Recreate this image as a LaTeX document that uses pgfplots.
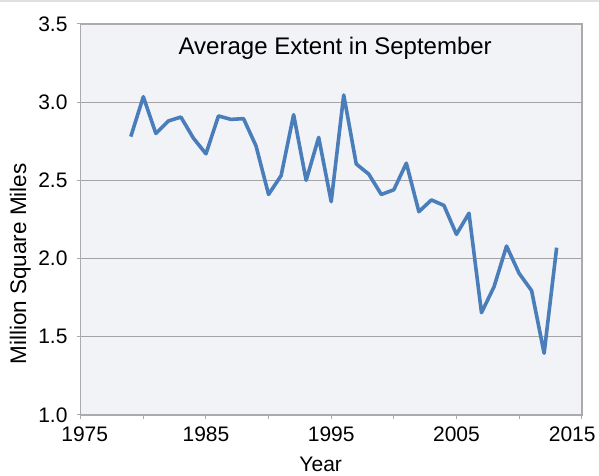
\documentclass[border=0pt]{standalone}
\usepackage{pgfplots}
\pgfplotsset{compat=1.18}
\usepackage{fontspec}
\setmainfont{Liberation Sans}
\definecolor{lineblue}{HTML}{4A7EBB}
\definecolor{plotbg}{HTML}{F2F3F6}
\definecolor{gridgray}{HTML}{A3A3A3}
\definecolor{spinegray}{HTML}{ABABAB}
\begin{document}
\fontsize{21bp}{25bp}\selectfont
\begin{tikzpicture}
\path[use as bounding box] (-80.7bp,-61bp) rectangle (518.3bp,415bp);
\draw[line width=1.5bp, black!12] (-80.7bp,414.2bp) -- (518.3bp,414.2bp);
\begin{axis}[
    at={(0,0)}, anchor=origin,
    scale only axis,
    width=501bp, height=391bp,
    xmin=1975, xmax=2015,
    ymin=1, ymax=3.5,
    xtick={1975,1985,1995,2005,2015},
    xticklabels={\hspace*{8bp}1975,1985,1995,2005,\hspace*{-19bp}2015},
    minor xtick={1980,1990,2000,2010},
    ytick={1,1.5,2,2.5,3,3.5},
    tick align=outside,
    major tick length=4bp,
    minor tick length=4bp,
    tick style={spinegray, line width=1bp},
    xtick pos=bottom, ytick pos=left,
    ymajorgrids=true,
    grid style={gridgray, line width=1.2bp},
    axis line style={spinegray, line width=1.6bp},
    axis background/.style={fill=plotbg},
    yticklabel style={/pgf/number format/fixed, /pgf/number format/fixed zerofill, /pgf/number format/precision=1},
    /pgf/number format/assume math mode=true,
    ticklabel style={font=\fontsize{21bp}{25bp}\selectfont, text=black},
    xticklabel shift=1bp,
    yticklabel shift=2bp,
    clip=false,
]
\addplot[color=lineblue, line width=3.6bp, line join=round] coordinates {
(1979,2.78)(1980,3.035)(1981,2.80)(1982,2.88)(1983,2.905)(1984,2.77)
(1985,2.67)(1986,2.912)(1987,2.89)(1988,2.895)(1989,2.72)(1990,2.41)
(1991,2.53)(1992,2.92)(1993,2.50)(1994,2.775)(1995,2.364)(1996,3.046)
(1997,2.605)(1998,2.54)(1999,2.41)(2000,2.44)(2001,2.61)(2002,2.30)
(2003,2.375)(2004,2.34)(2005,2.155)(2006,2.29)(2007,1.654)(2008,1.82)
(2009,2.08)(2010,1.906)(2011,1.795)(2012,1.395)(2013,2.07)
};
\node[font=\fontsize{24bp}{28bp}\selectfont] at (rel axis cs:0.508,0.939) {Average Extent in September};
\end{axis}
\node[anchor=base, inner sep=0pt] at (240bp,-56bp) {Year};
\node[rotate=90, font=\fontsize{22.5bp}{27bp}\selectfont] at (-60.5bp,151bp) {Million Square Miles};
\end{tikzpicture}
\end{document}
